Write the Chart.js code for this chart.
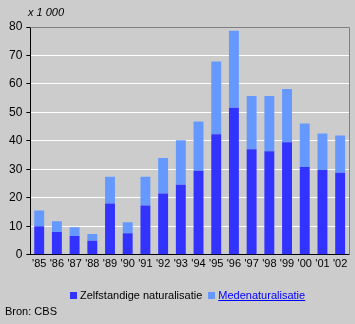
<!DOCTYPE html>
<html><head><meta charset="utf-8">
<script src="https://cdn.jsdelivr.net/npm/chart.js@4.4.0/dist/chart.umd.min.js"></script>
<style>
html,body{margin:0;padding:0;background:#CCCCCC;}
body{width:355px;height:324px;position:relative;overflow:hidden;font-family:"Liberation Sans",Arial,sans-serif;}
#wrap{position:absolute;left:0;top:0;width:355px;height:324px;}
#unit{position:absolute;left:28px;top:6px;font-size:11px;font-style:italic;color:#000;}
#legend{position:absolute;left:70px;top:289px;font-size:11px;color:#000;white-space:nowrap;}
#legend span.sw{display:inline-block;width:7px;height:7px;margin-right:3px;vertical-align:0px;}
#legend .item{margin-right:6px;}
#legend .link{color:#0000FF;text-decoration:underline;}
#src{position:absolute;left:5px;top:305px;font-size:11px;color:#000;}
</style></head>
<body>
<div id="wrap"><canvas id="c" width="355" height="324"></canvas></div>
<div id="unit">x 1 000</div>
<div id="legend"></div>
<div id="src">Bron: CBS</div>
<script>
const years = ["'85","'86","'87","'88","'89","'90","'91","'92","'93","'94","'95","'96","'97","'98","'99","'00","'01","'02"];
const zelfstandige = [10.0,8.0,6.6,4.9,18.0,7.6,17.3,21.5,24.6,29.5,42.3,51.6,37.1,36.4,39.5,30.8,29.8,28.8];
const mede = [5.6,3.8,3.1,2.4,9.4,3.8,10.1,12.5,15.6,17.3,25.6,27.1,18.7,19.4,18.7,15.3,12.8,13.1];
const yTicks = [0,10,20,30,40,50,60,70,80];
const seriesLabels = ["Zelfstandige naturalisatie","Medenaturalisatie"];
const colors = ["#3333FF","#6699FF"];

const frame = {
  id:'frame',
  afterDraw(chart){
    const a = chart.chartArea, ctx = chart.ctx;
    ctx.save();
    ctx.strokeStyle = '#808080'; ctx.lineWidth = 1;
    ctx.beginPath();
    ctx.moveTo(a.left, a.top + 0.5); ctx.lineTo(a.right + 0.5, a.top + 0.5);
    ctx.lineTo(a.right + 0.5, a.bottom);
    ctx.stroke();
    ctx.restore();
  }
};

new Chart(document.getElementById('c'), {
  type:'bar',
  data:{labels:years, datasets:[
    {label:seriesLabels[0], data:zelfstandige, backgroundColor:colors[0], borderWidth:0},
    {label:seriesLabels[1], data:mede, backgroundColor:colors[1], borderWidth:0}
  ]},
  options:{
    responsive:false, animation:false,
    layout:{padding:{top:27,right:6,bottom:50,left:5}},
    plugins:{legend:{display:false}, tooltip:{enabled:false}},
    datasets:{bar:{barPercentage:0.56, categoryPercentage:1.0}},
    scales:{
      x:{stacked:true, grid:{display:false, drawTicks:false},
         border:{display:true,color:'#000',width:1},
         ticks:{color:'#000', font:{family:'Liberation Sans', size:11}, padding:3, maxRotation:0, autoSkip:false}},
      y:{stacked:true, min:0, max:80,
         afterBuildTicks(s){ s.ticks = yTicks.map(v=>({value:v})); },
         grid:{color:(c)=> c.tick && c.tick.value===0 ? '#000' : (c.tick && c.tick.value===80 ? '#808080':'#FFFFFF'), lineWidth:1, tickLength:4, tickColor:'#000', drawTicks:true},
         border:{display:true,color:'#000',width:1},
         ticks:{color:'#000', font:{family:'Liberation Sans', size:12}, padding:4}}
    }
  },
  plugins:[frame]
});

const lg = document.getElementById('legend');
seriesLabels.forEach((l,i)=>{
  const it = document.createElement('span'); it.className='item';
  const sw = document.createElement('span'); sw.className='sw'; sw.style.background=colors[i];
  const t = document.createElement('span'); t.textContent=l; if(i===1) t.className='link';
  it.appendChild(sw); it.appendChild(t); lg.appendChild(it);
});
</script>
</body></html>
